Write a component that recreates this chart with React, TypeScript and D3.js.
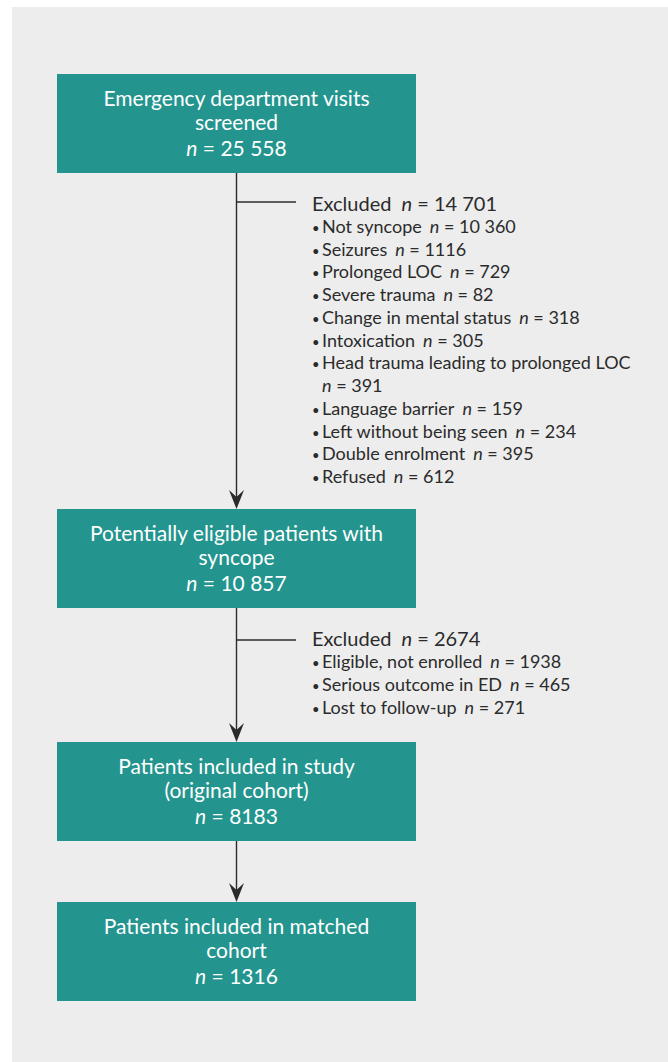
import React from 'react';
import * as d3 from 'd3';

const stageLabels = [
  ['Emergency department visits', 'screened'],
  ['Potentially eligible patients with', 'syncope'],
  ['Patients included in study', '(original cohort)'],
  ['Patients included in matched', 'cohort'],
];
const stageCounts = [25558, 10857, 8183, 1316];

const excludedTotals = [14701, 2674];
const excludedReasons1 = [
  'Not syncope',
  'Seizures',
  'Prolonged LOC',
  'Severe trauma',
  'Change in mental status',
  'Intoxication',
  'Head trauma leading to prolonged LOC',
  'Language barrier',
  'Left without being seen',
  'Double enrolment',
  'Refused',
];
const excludedCounts1 = [10360, 1116, 729, 82, 318, 305, 391, 159, 234, 395, 612];
const excludedReasons2 = ['Eligible, not enrolled', 'Serious outcome in ED', 'Lost to follow-up'];
const excludedCounts2 = [1938, 465, 271];

// thin-space grouping only for 5+ digit numbers (journal style)
const grouped = d3.formatLocale({ decimal: '.', thousands: ' ', grouping: [3], currency: ['', ''] }).format(',d');
const fmt = (v: number) => (v >= 10000 ? grouped(v) : String(v));

const W = 668;
const H = 1062;
const TEAL = '#23958e';
const INK = '#2b2b2b';
const FONT = 'Lato, "Open Sans", sans-serif';

const boxX = 57;
const boxW = 359;
const boxH = 99;
const boxTops = [74, 509, 742, 902];
const cx = boxX + boxW / 2;

const App: React.FC = () => {
  const line = d3.line<[number, number]>();

  const arrowHead = (tipY: number) => {
    const p = d3.path();
    p.moveTo(cx, tipY);
    p.lineTo(cx - 7.5, tipY - 19);
    p.lineTo(cx, tipY - 12);
    p.lineTo(cx + 7.5, tipY - 19);
    p.closePath();
    return p.toString();
  };

  const rowY1 = d3.scaleLinear().domain([0, 11]).range([233, 483]);
  const rowY2 = d3.scaleLinear().domain([0, 2]).range([668, 714]);

  // lay out block 1 rows: item "Head trauma..." wraps its n onto the next row
  const rows1: { bullet: boolean; label: string; n: number | null; indent: boolean }[] = [];
  excludedReasons1.forEach((r, i) => {
    if (i === 6) {
      rows1.push({ bullet: true, label: r, n: null, indent: false });
      rows1.push({ bullet: false, label: '', n: excludedCounts1[i], indent: true });
    } else {
      rows1.push({ bullet: true, label: r, n: excludedCounts1[i], indent: false });
    }
  });

  const renderRow = (row: { bullet: boolean; label: string; n: number | null }, y: number, key: number) => (
    <g key={key}>
      {row.bullet && (
        <text x={312} y={y} fontSize={13} fill={INK}>
          •
        </text>
      )}
      <text x={322} y={y} fontSize={18} fill={INK}>
        {row.label}
        {row.n !== null && (
          <>
            <tspan dx={row.label ? 8 : 0} fontStyle="italic">n</tspan>
            <tspan> = {fmt(row.n)}</tspan>
          </>
        )}
      </text>
    </g>
  );

  return (
    <svg width={W} height={H} style={{ position: 'absolute', left: 0, top: 0 }} fontFamily={FONT}>
      <rect x={12} y={7} width={W - 12} height={H - 7} fill="#ededed" />

      {/* connectors */}
      {[0, 1, 2].map((i) => (
        <g key={i}>
          <path
            d={line([[cx, boxTops[i] + boxH], [cx, boxTops[i + 1] - 6]]) || ''}
            stroke={INK}
            strokeWidth={1.4}
            fill="none"
          />
          <path d={arrowHead(boxTops[i + 1])} fill={INK} />
        </g>
      ))}
      <path d={line([[cx, 202], [296, 202]]) || ''} stroke={INK} strokeWidth={1.3} />
      <path d={line([[cx, 640], [296, 640]]) || ''} stroke={INK} strokeWidth={1.3} />

      {/* stage boxes */}
      {stageLabels.map((lines, i) => (
        <g key={i}>
          <rect x={boxX} y={boxTops[i]} width={boxW} height={boxH} fill={TEAL} />
          {lines.map((t, j) => (
            <text
              key={j}
              x={cx}
              y={boxTops[i] + 32 + j * 23.5}
              textAnchor="middle"
              fill="#ffffff"
              fontSize={21}
            >
              {t}
            </text>
          ))}
          <text x={cx} y={boxTops[i] + 82} textAnchor="middle" fill="#ffffff" fontSize={21}>
            <tspan fontStyle="italic">n</tspan>
            <tspan>{i === 1 ? '  = ' : ' = '}{fmt(stageCounts[i])}</tspan>
          </text>
        </g>
      ))}

      {/* excluded block 1 */}
      <text x={312} y={211} fontSize={20} fill={INK}>
        Excluded
        <tspan dx={10} fontStyle="italic">n</tspan>
        <tspan> = {fmt(excludedTotals[0])}</tspan>
      </text>
      {rows1.map((row, k) =>
        row.indent ? (
          <text key={k} x={322} y={rowY1(k)} fontSize={18} fill={INK}>
            <tspan fontStyle="italic">n</tspan>
            <tspan> = {fmt(row.n as number)}</tspan>
          </text>
        ) : (
          renderRow(row, rowY1(k), k)
        )
      )}

      {/* excluded block 2 */}
      <text x={312} y={646} fontSize={20} fill={INK}>
        Excluded
        <tspan dx={10} fontStyle="italic">n</tspan>
        <tspan> = {fmt(excludedTotals[1])}</tspan>
      </text>
      {excludedReasons2.map((r, k) =>
        renderRow({ bullet: true, label: r, n: excludedCounts2[k] }, rowY2(k), 100 + k)
      )}
    </svg>
  );
};

export default App;
